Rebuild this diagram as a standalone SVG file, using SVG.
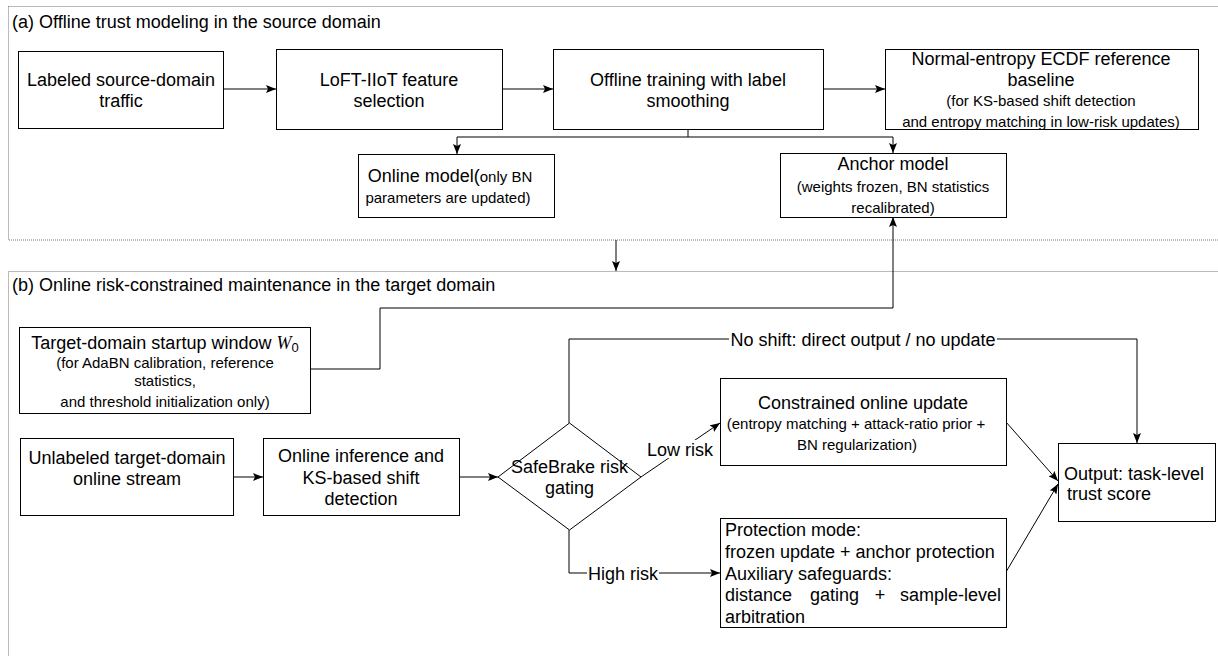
<svg xmlns="http://www.w3.org/2000/svg" width="1218" height="656" viewBox="0 0 1218 656">
<style>
text{font-family:"Liberation Sans",Arial,sans-serif;fill:#000}
.t18{font-size:18px}
.t14{font-size:15px}
.t16{font-size:18px}
.c{text-anchor:middle}
.box{fill:#fff;stroke:#000;stroke-width:1}
.frame{fill:none;stroke:#777;stroke-width:1;stroke-dasharray:1 1}
.edge{fill:none;stroke:#000;stroke-width:1}
.lbl{fill:#fff;stroke:none}
</style>
<defs>
<marker id="ah" viewBox="0 0 10 8" refX="10" refY="4" markerWidth="10" markerHeight="8" markerUnits="userSpaceOnUse" orient="auto">
<path d="M0,0 L10,4 L0,8 L2,4 z" fill="#000"/>
</marker>
</defs>

<g id="frame-a">
<rect class="frame" x="8.5" y="6.5" width="1230" height="233.5"/>
<text class="t16" x="12" y="28">(a) Offline trust modeling in the source domain</text>
</g>
<g id="frame-b">
<rect class="frame" x="8.5" y="271.5" width="1230" height="420"/>
<text class="t16" x="12" y="291">(b) Online risk-constrained maintenance in the target domain</text>
</g>

<g id="connectors">
<path class="edge" d="M223,89 H276" marker-end="url(#ah)"/>
<path class="edge" d="M502,89 H553" marker-end="url(#ah)"/>
<path class="edge" d="M823,89 H885" marker-end="url(#ah)"/>
<path class="edge" d="M688,129 V137 H457 V154" marker-end="url(#ah)"/>
<path class="edge" d="M688,137 H893 V153" marker-end="url(#ah)"/>
<path class="edge" d="M616,240 V271" marker-end="url(#ah)"/>
<path class="edge" d="M310,369 H380 V308 H893 V217" marker-end="url(#ah)"/>
<path class="edge" d="M233,477 H263" marker-end="url(#ah)"/>
<path class="edge" d="M459,477 H498" marker-end="url(#ah)"/>
<path class="edge" d="M569,423 V339 H1137 V443" marker-end="url(#ah)"/>
<rect class="lbl" x="729" y="330" width="268" height="19"/>
<text class="t18 c" x="863" y="345.5">No shift: direct output / no update</text>
<path class="edge" d="M641,477 L720,423" marker-end="url(#ah)"/>
<rect class="lbl" x="646" y="440" width="68" height="18"/>
<text class="t18 c" x="680" y="455.5">Low risk</text>
<path class="edge" d="M569,530 V573 H720" marker-end="url(#ah)"/>
<rect class="lbl" x="587" y="564" width="72" height="18"/>
<text class="t18 c" x="623" y="579.5">High risk</text>
<path class="edge" d="M1006,422 L1058,481" marker-end="url(#ah)"/>
<path class="edge" d="M1006,572 L1058,484" marker-end="url(#ah)"/>
</g>

<g id="n-labeled">
<rect class="box" x="18.5" y="51.5" width="205" height="77"/>
<text class="t18 c" x="121" y="85.5">Labeled source-domain</text>
<text class="t18 c" x="121" y="106.5">traffic</text>
</g>
<g id="n-loft">
<rect class="box" x="276.5" y="49.5" width="226" height="80"/>
<text class="t18 c" x="389" y="85.5">LoFT-IIoT feature</text>
<text class="t18 c" x="389" y="106.5">selection</text>
</g>
<g id="n-offline">
<rect class="box" x="553.5" y="49.5" width="270" height="80"/>
<text class="t18 c" x="688" y="85.5">Offline training with label</text>
<text class="t18 c" x="688" y="106.5">smoothing</text>
</g>
<g id="n-ecdf">
<rect class="box" x="885.5" y="49.5" width="313" height="80"/>
<text class="t18 c" x="1041" y="64.5">Normal-entropy ECDF reference</text>
<text class="t18 c" x="1041" y="85.5">baseline</text>
<text class="t14 c" x="1041" y="105.5">(for KS-based shift detection</text>
<text class="t14 c" x="1041" y="127">and entropy matching in low-risk updates)</text>
</g>
<g id="n-online-model">
<rect class="box" x="358.5" y="154.5" width="196" height="63"/>
<text class="c" x="450" y="181.5"><tspan class="t18">Online model(</tspan><tspan class="t14">only BN</tspan></text>
<text class="t14 c" x="448" y="202.5">parameters are updated)</text>
</g>
<g id="n-anchor">
<rect class="box" x="780.5" y="153.5" width="226" height="64"/>
<text class="t18 c" x="893" y="169.5">Anchor model</text>
<text class="t14 c" x="893" y="191.5">(weights frozen, BN statistics</text>
<text class="t14 c" x="893" y="212.5">recalibrated)</text>
</g>
<g id="n-startup">
<rect class="box" x="19.5" y="327.5" width="291" height="86"/>
<text class="t18 c" x="165" y="348.5">Target-domain startup window <tspan font-family="'Liberation Serif',serif" font-style="italic">W</tspan><tspan font-size="13" dy="3">0</tspan></text>
<text class="t14 c" x="165" y="367.5">(for AdaBN calibration, reference</text>
<text class="t14 c" x="165" y="385.5">statistics,</text>
<text class="t14 c" x="165" y="406.5">and threshold initialization only)</text>
</g>
<g id="n-unlabeled">
<rect class="box" x="20.5" y="438.5" width="213" height="77"/>
<text class="t18 c" x="127" y="463.5">Unlabeled target-domain</text>
<text class="t18 c" x="127" y="484.5">online stream</text>
</g>
<g id="n-inference">
<rect class="box" x="263.5" y="438.5" width="196" height="77"/>
<text class="t18 c" x="361" y="461.5">Online inference and</text>
<text class="t18 c" x="361" y="483.5">KS-based shift</text>
<text class="t18 c" x="361" y="504.5">detection</text>
</g>
<g id="n-safebrake">
<path class="box" d="M498,477 L569.5,423 L641,477 L569.5,530 Z"/>
<text class="t18 c" x="569.5" y="472.5">SafeBrake risk</text>
<text class="t18 c" x="569.5" y="493.5">gating</text>
</g>
<g id="n-constrained">
<rect class="box" x="720.5" y="378.5" width="286" height="87"/>
<text class="t18 c" x="863" y="408.5">Constrained online update</text>
<text class="t14 c" x="856" y="428.5">(entropy matching + attack-ratio prior +</text>
<text class="t14 c" x="857" y="449.5">BN regularization)</text>
</g>
<g id="n-protection">
<rect class="box" x="720.5" y="518.5" width="286" height="109"/>
<text class="t18" x="725" y="535.5">Protection mode:</text>
<text class="t18" x="725" y="557.5">frozen update + anchor protection</text>
<text class="t18" x="725" y="579.5">Auxiliary safeguards:</text>
<text class="t18" x="725" y="600.5">distance</text>
<text class="t18" x="810" y="600.5">gating</text>
<text class="t18 c" x="880" y="600.5">+</text>
<text class="t18" x="1001" y="600.5" text-anchor="end">sample-level</text>
<text class="t18" x="725" y="622.5">arbitration</text>
</g>
<g id="n-output">
<rect class="box" x="1058.5" y="443.5" width="157" height="78"/>
<text class="t18" x="1064" y="479.5">Output: task-level</text>
<text class="t18" x="1067" y="499.5">trust score</text>
</g>
</svg>
